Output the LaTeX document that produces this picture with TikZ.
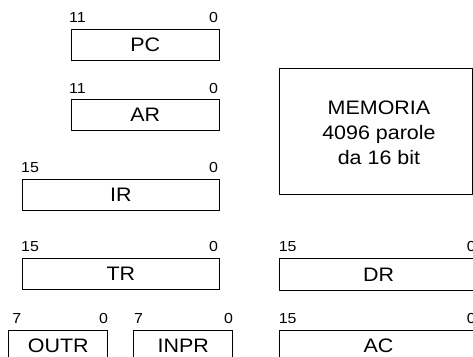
\documentclass[tikz,border=0pt]{standalone}
\usepackage{fontspec}
\setmainfont[FakeStretch=1.1]{Liberation Sans}
\begin{document}
\begin{tikzpicture}[x=1pt,y=-1pt,
  reg/.style={draw, line width=0.9pt, inner sep=0pt, anchor=north west,
    font=\fontsize{19.5}{23}\selectfont},
  bitnum/.style={inner sep=0pt, font=\fontsize{14.5}{17}\selectfont},
  memtext/.style={align=center, inner sep=0pt, font=\fontsize{19.5}{25}\selectfont}]
\useasboundingbox (0,0) rectangle (473,356);
\clip (0,0) rectangle (473,356);
% registers
\node[reg, minimum width=148.5pt, minimum height=31pt] (pc) at (70.5,28.5) {PC};
\node[reg, minimum width=148.5pt, minimum height=31pt] (ar) at (70.5,99) {AR};
\node[reg, minimum width=197.5pt, minimum height=31pt] (ir) at (21.7,179.3) {IR};
\node[reg, minimum width=197.5pt, minimum height=31pt] (tr) at (21.7,258) {TR};
\node[reg, minimum width=99pt, minimum height=31pt] (outr) at (8.3,330) {OUTR};
\node[reg, minimum width=99pt, minimum height=31pt] (inpr) at (133.3,330) {INPR};
\node[reg, minimum width=192.4pt, minimum height=125.7pt] (mem) at (279.3,68.3) {};
\node[reg, minimum width=197.5pt, minimum height=31.5pt] (dr) at (279.3,258.3) {DR};
\node[reg, minimum width=197.5pt, minimum height=31pt] (ac) at (279.3,330) {AC};
\node[memtext] (memlbl) at ([xshift=3pt,yshift=-1.5pt]mem.center) {MEMORIA\\4096 parole\\da 16 bit};
% bit numbers
\node[bitnum, anchor=base west] (pcl) at ([xshift=-1.5pt,yshift=6pt]pc.north west) {11};
\node[bitnum, anchor=base east] (pcr) at ([xshift=-1.8pt,yshift=6pt]pc.north east) {0};
\node[bitnum, anchor=base west] (arl) at ([xshift=-1.5pt,yshift=6pt]ar.north west) {11};
\node[bitnum, anchor=base east] (arr) at ([xshift=-1.8pt,yshift=6pt]ar.north east) {0};
\node[bitnum, anchor=base west] (irl) at ([xshift=-0.7pt,yshift=6.5pt]ir.north west) {15};
\node[bitnum, anchor=base east] (irr) at ([xshift=-1.8pt,yshift=6.5pt]ir.north east) {0};
\node[bitnum, anchor=base west] (trl) at ([xshift=-0.7pt,yshift=6.5pt]tr.north west) {15};
\node[bitnum, anchor=base east] (trr) at ([xshift=-1.8pt,yshift=6.5pt]tr.north east) {0};
\node[bitnum, anchor=base west] (outrl) at ([xshift=4pt,yshift=6.5pt]outr.north west) {7};
\node[bitnum, anchor=base east] (outrr) at ([xshift=0pt,yshift=6.5pt]outr.north east) {0};
\node[bitnum, anchor=base west] (inprl) at ([xshift=0.7pt,yshift=6.5pt]inpr.north west) {7};
\node[bitnum, anchor=base east] (inprr) at ([xshift=0pt,yshift=6.5pt]inpr.north east) {0};
\node[bitnum, anchor=base west] (drl) at ([xshift=-0.7pt,yshift=6.5pt]dr.north west) {15};
\node[bitnum, anchor=base east] (drr) at ([xshift=-1.8pt,yshift=6.5pt]dr.north east) {0};
\node[bitnum, anchor=base west] (acl) at ([xshift=-0.7pt,yshift=6.5pt]ac.north west) {15};
\node[bitnum, anchor=base east] (acr) at ([xshift=-1.8pt,yshift=6.5pt]ac.north east) {0};
\end{tikzpicture}
\end{document}
